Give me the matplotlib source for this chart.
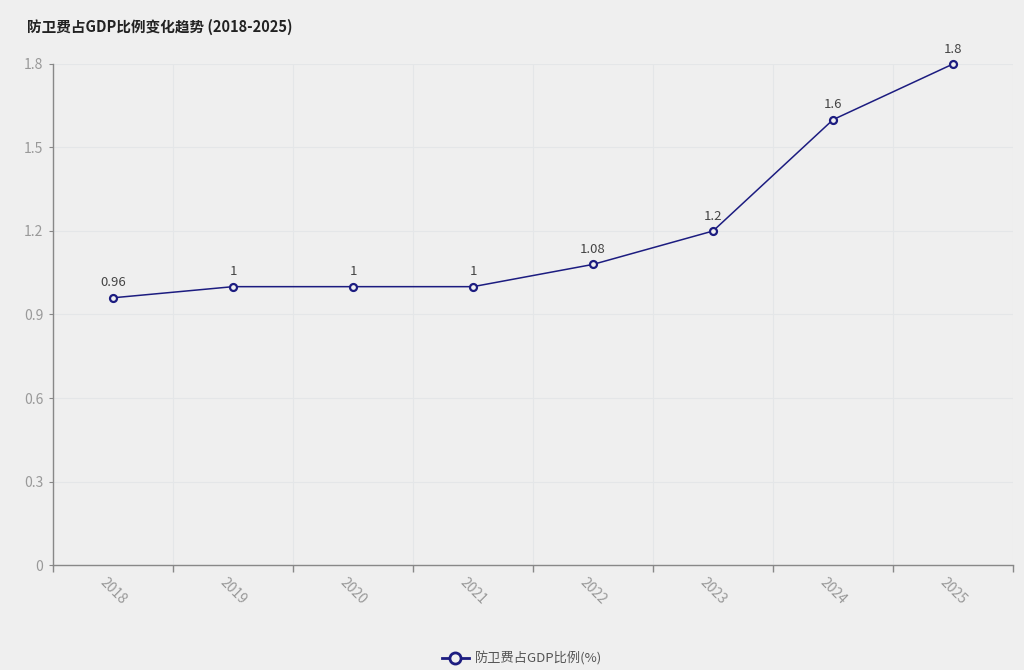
import numpy as np
import matplotlib.pyplot as plt

plt.rcParams['font.family'] = ['Noto Sans CJK SC', 'DejaVu Sans']

years = ['2018', '2019', '2020', '2021', '2022', '2023', '2024', '2025']
ratio = [0.96, 1, 1, 1, 1.08, 1.2, 1.6, 1.8]
labels = ['0.96', '1', '1', '1', '1.08', '1.2', '1.6', '1.8']
y_ticks = [0, 0.3, 0.6, 0.9, 1.2, 1.5, 1.8]

bg = '#efefef'
navy = '#1c1c80'

fig = plt.figure(figsize=(10.24, 6.7), dpi=100, facecolor=bg)
ax = fig.add_axes([0.0518, 0.1567, 0.9375, 0.7478], facecolor=bg)

x = np.arange(len(years))
ax.plot(x, ratio, color=navy, lw=1.1, marker='o', ms=5, mfc=bg,
        mec=navy, mew=1.6, label='防卫费占GDP比例(%)', zorder=3,
        clip_on=False)
for xi, yi, t in zip(x, ratio, labels):
    ax.annotate(t, (xi, yi), xytext=(0, 6), textcoords='offset points',
                ha='center', va='bottom', fontsize=9.5, color='#444444')

ax.set_xlim(-0.5, len(years) - 0.5)
ax.set_ylim(0, 1.8)
ax.set_yticks(y_ticks)
ax.set_yticklabels([f'{v:g}' for v in y_ticks])

# category boundaries carry the ticks and vertical grid
ax.set_xticks(np.arange(len(years) + 1) - 0.5)
ax.set_xticklabels([])
ax.set_xticks(x, minor=True)
ax.set_xticklabels(years, minor=True, rotation=-45, ha='center', va='top',
                   rotation_mode='default')
ax.tick_params(axis='x', which='minor', length=0, pad=7, labelsize=10,
               labelcolor='#999999')
ax.tick_params(axis='x', which='major', length=5, color='#888888', width=1)
ax.tick_params(axis='y', length=3, color='#888888', labelsize=10,
               labelcolor='#999999', pad=4)

ax.grid(True, which='major', color='#e4e6e8', lw=0.8)
ax.set_axisbelow(True)
for s in ['top', 'right']:
    ax.spines[s].set_visible(False)
for s in ['left', 'bottom']:
    ax.spines[s].set_color('#888888')
    ax.spines[s].set_linewidth(1)

fig.text(0.026, 0.96, '防卫费占GDP比例变化趋势 (2018-2025)', fontsize=10.5,
         fontweight='bold', color='#222222', ha='left', va='center')

leg = fig.legend(loc='center', bbox_to_anchor=(0.51, 0.017), frameon=False,
                 fontsize=9.5, handlelength=2.0, handletextpad=0.5)
for t in leg.get_texts():
    t.set_color('#555555')
for h in leg.legend_handles:
    h.set_markersize(8)
    h.set_linewidth(2)
    h.set_markeredgewidth(2)

fig.savefig('out.png', dpi=100, facecolor=bg)
